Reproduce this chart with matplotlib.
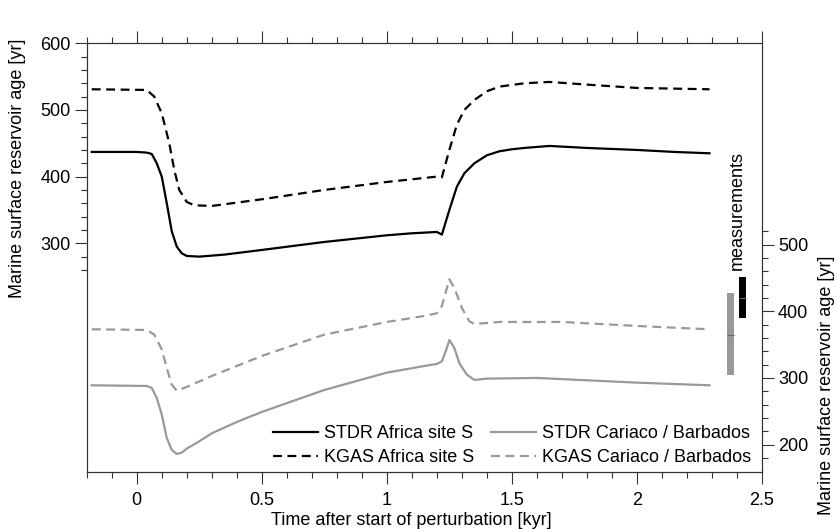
import numpy as np
import matplotlib
matplotlib.use('Agg')
import matplotlib.pyplot as plt

plt.rcParams['font.family'] = ['Liberation Sans', 'DejaVu Sans']
plt.rcParams['font.size'] = 13

# time after start of perturbation [kyr]
t_stdr_af = [-0.18, 0.0, 0.04, 0.06, 0.08, 0.1, 0.12, 0.14, 0.16, 0.18, 0.2, 0.25, 0.35,
             0.5, 0.75, 1.0, 1.1, 1.2, 1.22, 1.25, 1.28, 1.31, 1.35, 1.4, 1.45, 1.5,
             1.55, 1.65, 1.8, 2.0, 2.15, 2.29]
stdr_africa = [437, 437, 436, 434, 420, 400, 360, 318, 295, 285, 281, 280, 283,
               290, 302, 312, 315, 317, 313, 350, 385, 405, 420, 432, 438, 441,
               443, 446, 443, 440, 437, 435]

t_kgas_af = [-0.18, 0.04, 0.07, 0.1, 0.13, 0.15, 0.17, 0.2, 0.23, 0.3, 0.5, 0.75, 1.0,
             1.2, 1.22, 1.25, 1.28, 1.31, 1.35, 1.4, 1.45, 1.55, 1.65, 1.8, 2.0, 2.29]
kgas_africa = [531, 530, 520, 495, 450, 410, 380, 362, 357, 356, 366, 380, 392,
               400, 399, 440, 478, 500, 515, 528, 535, 540, 542, 538, 533, 531]

t_stdr_ca = [-0.18, 0.04, 0.06, 0.08, 0.1, 0.12, 0.14, 0.16, 0.18, 0.2, 0.25, 0.3, 0.4,
             0.5, 0.75, 1.0, 1.15, 1.2, 1.22, 1.24, 1.25, 1.27, 1.29, 1.32, 1.35, 1.4,
             1.6, 2.0, 2.29]
stdr_cariaco = [289, 288, 285, 270, 245, 210, 192, 186, 188, 194, 205, 217, 234,
                249, 282, 308, 318, 321, 325, 345, 357, 345, 322, 305, 297, 299,
                300, 293, 289]

t_kgas_ca = [-0.18, 0.04, 0.07, 0.1, 0.12, 0.14, 0.16, 0.19, 0.3, 0.5, 0.75, 1.0, 1.15,
             1.2, 1.22, 1.25, 1.27, 1.3, 1.33, 1.35, 1.45, 1.7, 2.0, 2.29]
kgas_cariaco = [373, 372, 365, 343, 315, 290, 281, 285, 303, 333, 365, 384, 393,
                397, 408, 448, 435, 405, 385, 381, 384, 384, 378, 373]

# measurements (right axis)
meas_x = [2.375, 2.422]
meas_lo = [305, 390]
meas_hi = [428, 452]
meas_mid = [365, 420]
meas_col = ['#999999', 'black']

gray = '#999999'
spine_col = '#333333'
dash = (0, (4, 2.5))

fig = plt.figure(figsize=(8.38, 5.29), dpi=100)
ax = fig.add_axes([0.1035, 0.1078, 0.8058, 0.8104])
ax2 = ax.twinx()

ax.plot(t_stdr_af, stdr_africa, c='black', lw=1.6, label='STDR Africa site S')
ax.plot(t_kgas_af, kgas_africa, c='black', lw=1.6, ls=dash, label='KGAS Africa site S')
l3, = ax2.plot(t_stdr_ca, stdr_cariaco, c=gray, lw=1.6, label='STDR Cariaco / Barbados')
l4, = ax2.plot(t_kgas_ca, kgas_cariaco, c=gray, lw=1.6, ls=dash, label='KGAS Cariaco / Barbados')

w = 0.029
for x, lo, hi, mid, c in zip(meas_x, meas_lo, meas_hi, meas_mid, meas_col):
    ax2.bar(x, hi - lo, bottom=lo, width=w, color=c, linewidth=0)
    ax2.hlines(mid, x - w / 2, x + w / 2, colors='#666666', lw=0.8)
ax2.text(2.4, 462, 'measurements', rotation=90, ha='center', va='bottom')

ax.set_xlim(-0.2, 2.5)
ax.set_ylim(-43, 600)
ax2.set_ylim(-43 + 202, 600 + 202)

ax.set_xticks([0, 0.5, 1, 1.5, 2, 2.5])
ax.set_xticklabels(['0', '0.5', '1', '1.5', '2', '2.5'])
ax.set_xticks(np.arange(-0.2, 2.45, 0.1), minor=True)
ax.set_yticks([300, 400, 500, 600])
ax.set_yticks(np.arange(260, 600, 20), minor=True)
ax2.set_yticks([200, 300, 400, 500])
ax2.set_yticks(np.arange(180, 530, 20), minor=True)

for a in (ax, ax2):
    a.tick_params(which='major', direction='out', length=8.5, width=0.8, color=spine_col)
    a.tick_params(which='minor', direction='out', length=4.5, width=0.8, color=spine_col)
    for s in a.spines.values():
        s.set_color(spine_col)
        s.set_linewidth(0.8)
ax.tick_params(axis='x', which='both', top=True, pad=6)
ax.tick_params(axis='y', pad=3)
ax2.tick_params(axis='y', pad=3)

ax.set_xlabel('Time after start of perturbation [kyr]')
ax.xaxis.set_label_coords(0.48, -0.093)
ax.set_ylabel('Marine surface reservoir age [yr]')
ax.yaxis.set_label_coords(-0.09, 0.709)
ax2.set_ylabel('Marine surface reservoir age [yr]')
ax2.yaxis.set_label_coords(1.083, 0.203)

h1, lab1 = ax.get_legend_handles_labels()
ax.legend(h1 + [l3, l4], lab1 + [l3.get_label(), l4.get_label()], ncol=2, frameon=False,
          loc='lower right', bbox_to_anchor=(1.008, -0.025), handlelength=2.5,
          handletextpad=0.33, columnspacing=0.9, labelspacing=0.4)
ax.set_zorder(ax2.get_zorder() + 1)
ax.patch.set_visible(False)

fig.savefig('out.png', dpi=100)
